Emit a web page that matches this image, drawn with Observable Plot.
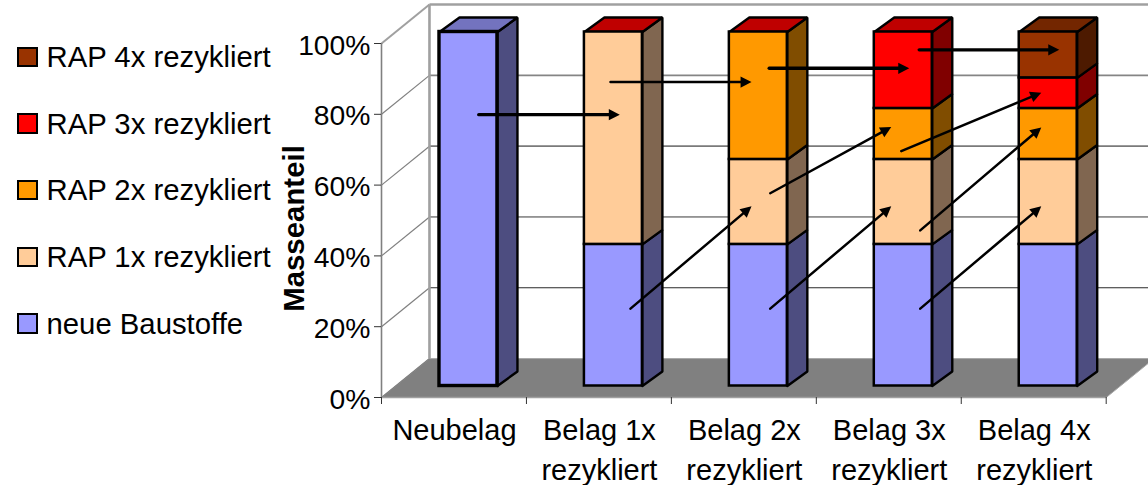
<!DOCTYPE html>
<html lang="de">
<head>
<meta charset="utf-8">
<title>Massenanteile rezyklierter Baustoffe</title>
<script src="https://cdn.jsdelivr.net/npm/d3@7"></script>
<script src="https://cdn.jsdelivr.net/npm/@observablehq/plot@0.6"></script>
<style>
  html, body { margin: 0; padding: 0; background: #fff; }
  #chart { position: relative; width: 1148px; height: 485px; overflow: hidden; font-family: "Liberation Sans", Arial, sans-serif; }
  #chart svg { display: block; position: absolute; left: 0; top: 0; }
  #legend { position: absolute; left: 17px; top: 23.5px; display: flex; flex-direction: column; z-index: 1; }
  .row { height: 66.7px; display: flex; align-items: center; gap: 9px; font-size: 29.3px; color: #000; white-space: nowrap; }
  .swatch { width: 16.5px; height: 16.5px; border: 2.4px solid #000; flex: none; }
</style>
</head>
<body>
<div id="chart"><div id="legend"></div></div>
<script>
// Belag categories, two-line axis labels
const categories = ["Neubelag", "Belag 1x\nrezykliert", "Belag 2x\nrezykliert", "Belag 3x\nrezykliert", "Belag 4x\nrezykliert"];

// Stacked shares in percent, one list per material, bottom to top
const seriesNames = ["neue Baustoffe", "RAP 1x rezykliert", "RAP 2x rezykliert", "RAP 3x rezykliert", "RAP 4x rezykliert"];
const neueBaustoffe = [100, 40, 40, 40, 40];
const rap1x = [0, 60, 24, 24, 24];
const rap2x = [0, 0, 36, 14.4, 14.4];
const rap3x = [0, 0, 0, 21.6, 8.64];
const rap4x = [0, 0, 0, 0, 12.96];
const seriesValues = [neueBaustoffe, rap1x, rap2x, rap3x, rap4x];

// Which series colours the lid of each column
const lidSeries = [0, 3, 3, 3, 4];

// Series colours: front face, side face (half brightness), lid (three quarters)
const frontColors = ["#9999ff", "#ffcc99", "#ff9900", "#ff0000", "#993300"];
const sideColors = ["#4d4d80", "#806650", "#804d00", "#800000", "#4d1a00"];
const lidColors = ["#7373bf", "#bf9973", "#bf7300", "#bf0000", "#732600"];

// Value axis
const yTicks = [0, 20, 40, 60, 80, 100];
const xTicks = [0, 1, 2, 3, 4, 5];

// Flow arrows between the columns, in scale units
const arrowX1 = [0.671, 1.580, 2.675, 3.710, 1.718, 2.682, 3.717, 2.682, 3.717, 3.586];
const arrowY1 = [79.9, 89.1, 93.0, 98.2, 25.1, 25.1, 25.1, 57.7, 47.2, 69.6];
const arrowX2 = [1.644, 2.553, 3.641, 4.676, 2.553, 3.517, 4.552, 3.517, 4.552, 4.552];
const arrowY2 = [79.9, 89.1, 93.0, 98.2, 54.0, 54.0, 54.0, 76.4, 76.3, 86.1];
const arrowWeight = [3.4, 2.5, 3.4, 3.4, 2.5, 2.5, 2.5, 2.5, 2.5, 2.5];

// Layout of the pseudo-3D box
const width = 1148, height = 485;
const margins = {left: 381, right: 42.3, top: 43, bottom: 88};
const xUnit = (width - margins.left - margins.right) / 5;
const yUnit = (height - margins.top - margins.bottom) / 100;
const wallDepth = {x: 0.331, y: 11};   // front edge of the floor to the back wall
const barDepth = {x: 0.138, y: 4.1};   // front to back of a column
const barLeft = 0.4, barWidth = 0.4;
const planeLift = -11.5;               // columns stand this far up the floor, in pixels

// Back wall and left wall gridline styles, 100% first is handled separately
const gridRows = yTicks.slice(1, 5).map((v, i) => ({
  v,
  stroke: ["#2a2a2a", "#3a3a3a", "#7a7a7a", "#858585"][i],
  weight: [1, 1, 1.6, 1.8][i]
}));

// Front faces, side faces and lids of every stack segment
const fronts = [], faces = [];
categories.forEach((cat, i) => {
  const weight = i === 0 ? 3.4 : 2.5;
  const x1 = i + barLeft, x2 = x1 + barWidth;
  let base = 0;
  seriesValues.forEach((values, s) => {
    const v = values[i];
    if (v <= 0) return;
    const top = base + v;
    fronts.push({x1, x2, y1: base, y2: top, fill: frontColors[s], weight});
    const id = `${i}-${s}`;
    [[x2, base], [x2 + barDepth.x, base + barDepth.y], [x2 + barDepth.x, top + barDepth.y], [x2, top], [x2, base]]
      .forEach(([x, y]) => faces.push({id, x, y, fill: sideColors[s], weight: 2.4}));
    base = top;
  });
  const id = `${i}-lid`;
  [[x1, base], [x2, base], [x2 + barDepth.x, base + barDepth.y], [x1 + barDepth.x, base + barDepth.y], [x1, base]]
    .forEach(([x, y]) => faces.push({id, x, y, fill: lidColors[lidSeries[i]], weight: 2.4}));
});

const floor = [[0, 0], [wallDepth.x, wallDepth.y], [5 + wallDepth.x, wallDepth.y], [5, 0], [0, 0]];

const arrows = arrowX1.map((x1, i) => ({
  x1, y1: arrowY1[i], x2: arrowX2[i], y2: arrowY2[i], weight: arrowWeight[i],
  angle: Math.atan2((arrowX2[i] - x1) * xUnit, (arrowY2[i] - arrowY1[i]) * yUnit) * 180 / Math.PI
}));

// Solid triangular arrowhead for the vector mark, tip at the far end
const headShape = {
  draw(context, l, r) {
    context.moveTo(0, -l);
    context.lineTo(r, 0);
    context.lineTo(-r, 0);
    context.closePath();
  }
};

const faceOptions = {
  x: "x", y: "y", z: "id", fill: "fill", stroke: "#000",
  strokeWidth: "weight", strokeLinejoin: "miter", dy: planeLift
};

const plot = Plot.plot({
  width, height,
  marginLeft: margins.left, marginRight: margins.right,
  marginTop: margins.top, marginBottom: margins.bottom,
  x: {domain: [0, 5], axis: null},
  y: {domain: [0, 100], axis: null},
  color: {type: "identity"},
  style: {fontFamily: '"Liberation Sans", Arial, sans-serif', fontSize: "28.3px", color: "#000", background: "transparent", overflow: "hidden"},
  marks: [
    // floor
    Plot.line(floor, {x: d => d[0], y: d => d[1], fill: "#808080", stroke: "#a8a8a8", strokeWidth: 1}),

    // gridlines across the back wall and up the left wall
    Plot.link(gridRows, {x1: wallDepth.x, x2: 5 + wallDepth.x, y1: d => d.v + wallDepth.y, y2: d => d.v + wallDepth.y, stroke: "stroke", strokeWidth: "weight"}),
    Plot.link(yTicks.slice(0, 5), {x1: 0, x2: wallDepth.x, y1: d => d, y2: d => d + wallDepth.y, stroke: "#808080", strokeWidth: 1.2}),

    // heavier box edges at the top and back
    Plot.link([100], {x1: wallDepth.x, x2: 5 + wallDepth.x, y1: d => d + wallDepth.y, y2: d => d + wallDepth.y, stroke: "#a0a0a0", strokeWidth: 2.6}),
    Plot.link([100], {x1: 0, x2: wallDepth.x, y1: d => d, y2: d => d + wallDepth.y, stroke: "#a0a0a0", strokeWidth: 2}),
    Plot.link([0], {x1: wallDepth.x, x2: wallDepth.x, y1: wallDepth.y, y2: 100 + wallDepth.y, stroke: "#a0a0a0", strokeWidth: 2.6}),

    // axes
    Plot.ruleX([0], {y1: 0, y2: 100, stroke: "#808080", strokeWidth: 1.6}),
    Plot.ruleY([0], {x1: 0, x2: 5, stroke: "#a0a0a0", strokeWidth: 1.6}),
    Plot.axisY({ticks: yTicks, tickSize: 7, tickFormat: () => "", label: null, stroke: "#333"}),
    Plot.axisX({ticks: xTicks, tickSize: 7, tickFormat: () => "", label: null, stroke: "#333"}),
    Plot.text(yTicks, {y: d => d, text: d => d + "%", frameAnchor: "left", textAnchor: "end", dx: -11, dy: 2, fill: "#000"}),
    Plot.text(categories, {
      x: (d, i) => i + 0.5, text: d => d, frameAnchor: "bottom", lineAnchor: "top",
      lineHeight: 1.38, dx: 0.5, dy: 14, fontSize: 29, fill: "#000"
    }),
    Plot.text(["Masseanteil"], {
      text: d => d, frameAnchor: "left", textAnchor: "middle", rotate: -90, dx: -87, dy: 8,
      fontWeight: "bold", fontSize: 29.4, fill: "#000"
    }),

    // columns: side faces and lids first so the front outlines stay on top
    Plot.line(faces, faceOptions),
    Plot.rect(fronts, {x1: "x1", x2: "x2", y1: "y1", y2: "y2", fill: "fill", stroke: "#000", strokeWidth: "weight", dy: planeLift}),

    // flow arrows
    Plot.arrow(arrows, {
      x1: "x1", y1: "y1", x2: "x2", y2: "y2", stroke: "#000", strokeWidth: "weight",
      headLength: 0, insetEnd: 7, strokeLinecap: "round"
    }),
    Plot.vector(arrows, {
      x: "x2", y: "y2", rotate: "angle", length: 11, r: 5.6,
      anchor: "end", shape: headShape, fill: "#000", stroke: "none"
    })
  ]
});

document.getElementById("chart").appendChild(plot);

// Legend rows, top row is the uppermost stack segment
const legend = document.getElementById("legend");
seriesNames.map((name, i) => ({name, color: frontColors[i]})).reverse().forEach(({name, color}) => {
  const row = document.createElement("div");
  row.className = "row";
  const swatch = document.createElement("span");
  swatch.className = "swatch";
  swatch.style.background = color;
  const label = document.createElement("span");
  label.textContent = name;
  row.append(swatch, label);
  legend.appendChild(row);
});
</script>
</body>
</html>
